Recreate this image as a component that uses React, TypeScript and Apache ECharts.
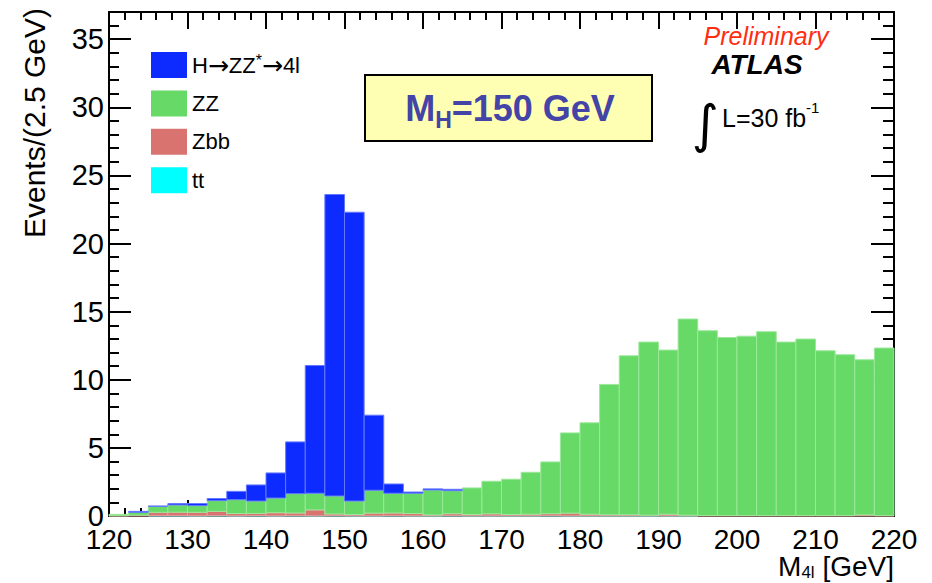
import React, { useEffect, useRef } from 'react';
import * as echarts from 'echarts';

// Lower edges of the 2.5 GeV bins (M4l, GeV)
const BIN_LOW = [
  120, 122.5, 125, 127.5, 130, 132.5, 135, 137.5, 140, 142.5,
  145, 147.5, 150, 152.5, 155, 157.5, 160, 162.5, 165, 167.5,
  170, 172.5, 175, 177.5, 180, 182.5, 185, 187.5, 190, 192.5,
  195, 197.5, 200, 202.5, 205, 207.5, 210, 212.5, 215, 217.5,
];
const BIN_WIDTH = 2.5;

// Events per bin, per process (stack order bottom -> top: tt, Zbb, ZZ, H)
const TT = [
  0, 0, 0.02, 0.02, 0.01, 0.02, 0.01, 0.02, 0.01, 0.02,
  0.01, 0.02, 0.01, 0.01, 0.02, 0.01, 0.01, 0.02, 0.01, 0.01,
  0.01, 0.01, 0.02, 0.01, 0.01, 0.01, 0.01, 0.01, 0.01, 0.01,
  0, 0, 0, 0, 0, 0, 0, 0, 0, 0,
];
const ZBB = [
  0.02, 0.06, 0.25, 0.26, 0.26, 0.32, 0.17, 0.17, 0.23, 0.2,
  0.44, 0.13, 0.1, 0.2, 0.2, 0.17, 0.07, 0.15, 0.1, 0.15,
  0.1, 0.12, 0.15, 0.2, 0.12, 0.08, 0.08, 0.05, 0.12, 0.05,
  0.03, 0.03, 0.03, 0.03, 0.03, 0.03, 0.03, 0.03, 0.08, 0.03,
];
const ZZ = [
  0.1, 0.21, 0.44, 0.53, 0.49, 0.79, 1.02, 0.91, 1.08, 1.42,
  1.22, 1.32, 0.99, 1.68, 1.45, 1.49, 1.83, 1.69, 1.95, 2.39,
  2.59, 3.08, 3.8, 5.89, 6.71, 9.57, 11.67, 12.71, 12.05, 14.4,
  13.57, 13.07, 13.17, 13.5, 12.74, 12.96, 12.1, 11.81, 11.39, 12.3,
];
const HIGGS = [
  0, 0.07, 0.02, 0.1, 0.15, 0.15, 0.61, 1.18, 1.84, 3.8,
  9.38, 22.13, 21.2, 5.51, 0.68, 0.09, 0.08, 0.1, 0, 0,
  0, 0, 0, 0, 0, 0, 0, 0, 0, 0,
  0, 0, 0, 0, 0, 0, 0, 0, 0, 0,
];

const HIGGS_NAME = 'H→ZZ*→4l';
const SERIES_DEF = [
  { name: 'tt', values: TT, color: '#00ffff', border: '#7fffff' },
  { name: 'Zbb', values: ZBB, color: '#d9736f', border: '#e8a19d' },
  { name: 'ZZ', values: ZZ, color: '#66d966', border: '#9be89b' },
  { name: HIGGS_NAME, values: HIGGS, color: '#0d2bff', border: '#6478ff' },
];
const LEGEND_ORDER = [HIGGS_NAME, 'ZZ', 'Zbb', 'tt'];

const FONT = '"Liberation Sans", Arial, Helvetica, sans-serif';
const ARROW_FONT = '"DejaVu Sans", sans-serif';

function buildSeries() {
  const base = BIN_LOW.map(() => 0);
  return SERIES_DEF.map((def) => {
    const data = BIN_LOW.map((lo, i) => {
      const y0 = base[i];
      const y1 = y0 + def.values[i];
      base[i] = y1;
      return [lo, lo + BIN_WIDTH, y0, y1];
    });
    return {
      type: 'custom',
      name: def.name,
      xAxisIndex: 0,
      yAxisIndex: 0,
      itemStyle: { color: def.color },
      encode: { x: [0, 1], y: [2, 3] },
      data,
      renderItem: (params: any, api: any) => {
        const x0 = api.value(0);
        const x1 = api.value(1);
        const y0 = api.value(2);
        const y1 = api.value(3);
        if (!(y1 - y0 > 0)) return null;
        const pTop = api.coord([x0, y1]);
        const pBot = api.coord([x1, y0]);
        return {
          type: 'rect',
          shape: {
            x: pTop[0],
            y: pTop[1],
            width: pBot[0] - pTop[0],
            height: pBot[1] - pTop[1],
          },
          style: { fill: def.color, stroke: def.border, lineWidth: 1 },
        };
      },
    };
  });
}

const axisLineStyle = { show: true, onZero: false, lineStyle: { color: '#000', width: 2 } };

export default function App() {
  const ref = useRef<HTMLDivElement>(null);

  useEffect(() => {
    if (!ref.current) return;
    const chart = echarts.init(ref.current, undefined, { renderer: 'svg' });
    const option: any = {
      animation: false,
      backgroundColor: '#ffffff',
      textStyle: { fontFamily: FONT },
      grid: {
        left: 109,
        right: 38,
        top: 12,
        bottom: 67,
        containLabel: false,
        outerBoundsMode: 'none',
      },
      legend: {
        orient: 'vertical',
        left: 146,
        top: 47,
        itemWidth: 36,
        itemHeight: 26,
        itemGap: 12.4,
        data: LEGEND_ORDER.map((n) => ({ name: n, icon: 'rect' })),
        formatter: (name: string) =>
          name === HIGGS_NAME ? '{a|H}{r|→}{a|ZZ}{p|*}{r|→}{a|4l}' : '{a|' + name + '}',
        textStyle: {
          fontSize: 22,
          color: '#000',
          fontFamily: FONT,
          rich: {
            a: { fontSize: 22, color: '#000', fontFamily: FONT },
            r: { fontSize: 25, color: '#000', fontFamily: ARROW_FONT },
            p: { fontSize: 16, color: '#000', fontFamily: FONT, verticalAlign: 'top', lineHeight: 14 },
          },
        },
        selectedMode: false,
      },
      xAxis: [
        {
          type: 'value',
          position: 'bottom',
          min: 120,
          max: 220,
          interval: 10,
          axisLine: axisLineStyle,
          axisTick: { show: true, inside: true, length: 16, lineStyle: { color: '#000', width: 2 } },
          minorTick: { show: true, splitNumber: 5, length: 8, lineStyle: { color: '#000', width: 2 } },
          splitLine: { show: false },
          axisLabel: { fontSize: 28, color: '#000', margin: 9, fontFamily: FONT, lineHeight: 28 },
        },
        {
          type: 'value',
          position: 'top',
          min: 120,
          max: 220,
          interval: 10,
          axisLine: axisLineStyle,
          axisTick: { show: true, inside: true, length: 17, lineStyle: { color: '#000', width: 2 } },
          minorTick: { show: true, splitNumber: 5, length: 8, lineStyle: { color: '#000', width: 2 } },
          splitLine: { show: false },
          axisLabel: { show: false },
        },
      ],
      yAxis: [
        {
          type: 'value',
          position: 'left',
          min: 0,
          max: 37,
          interval: 5,
          axisLine: axisLineStyle,
          axisTick: { show: true, inside: true, length: 22, lineStyle: { color: '#000', width: 2 } },
          minorTick: { show: true, splitNumber: 5, length: 10, lineStyle: { color: '#000', width: 2 } },
          splitLine: { show: false },
          axisLabel: { fontSize: 29, color: '#000', margin: 5, fontFamily: FONT, lineHeight: 29 },
        },
        {
          type: 'value',
          position: 'right',
          min: 0,
          max: 37,
          interval: 5,
          axisLine: axisLineStyle,
          axisTick: { show: true, inside: true, length: 23, lineStyle: { color: '#000', width: 2 } },
          minorTick: { show: true, splitNumber: 5, length: 11, lineStyle: { color: '#000', width: 2 } },
          splitLine: { show: false },
          axisLabel: { show: false },
        },
      ],
      graphic: [
        {
          type: 'text',
          x: 34,
          y: 123,
          rotation: Math.PI / 2,
          style: {
            text: 'Events/(2.5 GeV)',
            fontSize: 30,
            fontFamily: FONT,
            fill: '#000',
            align: 'center',
            verticalAlign: 'middle',
          },
        },
        {
          type: 'text',
          x: 894,
          y: 566,
          style: {
            text: '{m|M}{s|4l}{m| [GeV]}',
            align: 'right',
            verticalAlign: 'middle',
            rich: {
              m: { fontSize: 28, fontFamily: FONT, fill: '#000', lineHeight: 30 },
              s: { fontSize: 17, fontFamily: FONT, fill: '#000', lineHeight: 17, verticalAlign: 'bottom' },
            },
          },
        },
        {
          type: 'rect',
          shape: { x: 365, y: 75, width: 287, height: 66 },
          style: { fill: '#ffffb3', stroke: '#000', lineWidth: 2 },
        },
        {
          type: 'text',
          x: 510,
          y: 108,
          style: {
            text: '{m|M}{s|H}{m|=150 GeV}',
            align: 'center',
            verticalAlign: 'middle',
            rich: {
              m: { fontSize: 36, fontWeight: 'bold', fontFamily: FONT, fill: '#4343a8', lineHeight: 46 },
              s: { fontSize: 23, fontWeight: 'bold', fontFamily: FONT, fill: '#4343a8', lineHeight: 23, verticalAlign: 'bottom' },
            },
          },
        },
        {
          type: 'text',
          x: 766,
          y: 36,
          style: {
            text: 'Preliminary',
            fontSize: 25,
            lineHeight: 25,
            fontStyle: 'italic',
            fontFamily: FONT,
            fill: '#ff2d0f',
            align: 'center',
            verticalAlign: 'middle',
          },
        },
        {
          type: 'text',
          x: 757,
          y: 64,
          style: {
            text: 'ATLAS',
            fontSize: 28,
            lineHeight: 26,
            fontStyle: 'italic',
            fontWeight: 'bold',
            fontFamily: FONT,
            fill: '#000',
            align: 'center',
            verticalAlign: 'middle',
          },
        },
        {
          type: 'text',
          x: 705,
          y: 124,
          style: {
            text: '∫',
            fontSize: 52,
            fontFamily: ARROW_FONT,
            fill: '#000',
            align: 'center',
            verticalAlign: 'middle',
          },
        },
        {
          type: 'text',
          x: 722,
          y: 118,
          style: {
            text: '{m|L=30 fb}{s|-1}',
            align: 'left',
            verticalAlign: 'middle',
            rich: {
              m: { fontSize: 25, fontFamily: FONT, fill: '#000', lineHeight: 36 },
              s: { fontSize: 15, fontFamily: FONT, fill: '#000', lineHeight: 15, verticalAlign: 'top' },
            },
          },
        },
      ],
      series: buildSeries(),
    };
    chart.setOption(option);
    return () => {
      chart.dispose();
    };
  }, []);

  return <div ref={ref} style={{ width: 932, height: 583, position: 'absolute', left: 0, top: 0 }} />;
}
